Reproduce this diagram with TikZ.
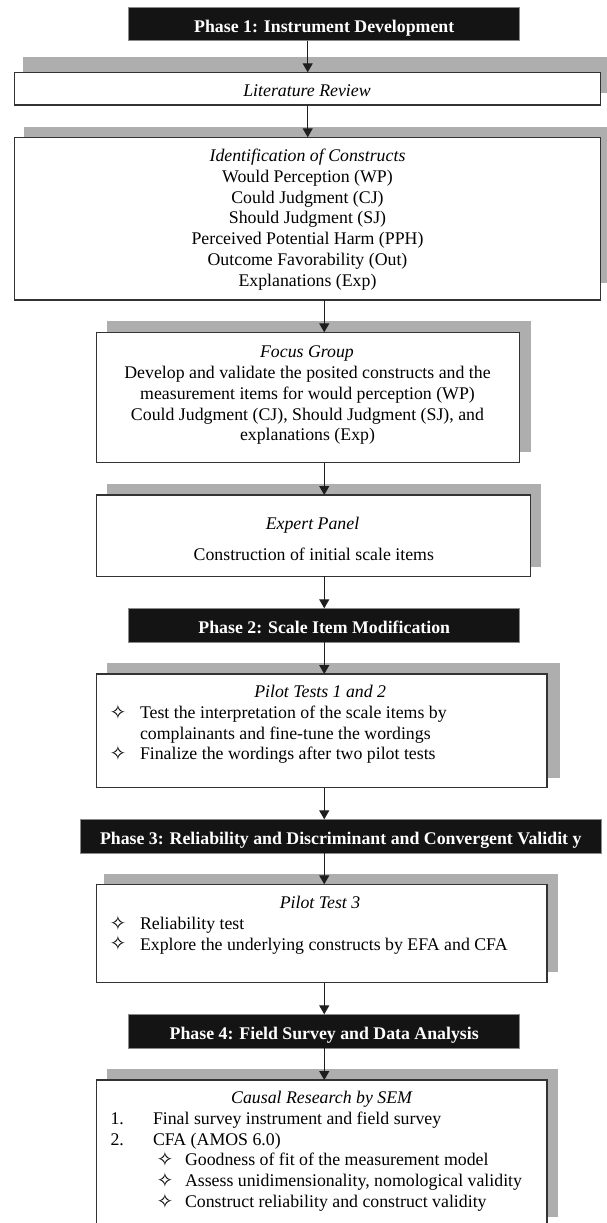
\documentclass[tikz,border=0pt]{standalone}
\usepackage{fontspec}
\setmainfont{Liberation Serif}
\newfontfamily\dingfont{DejaVu Sans}
\usetikzlibrary{arrows.meta}
\definecolor{shadowgray}{HTML}{AEAEAE}
\definecolor{boxline}{HTML}{333333}
\definecolor{hdrfill}{HTML}{141414}
\definecolor{hdrline}{HTML}{8A8A8A}
\definecolor{flowline}{HTML}{1E1E1E}
\begin{document}
\begin{tikzpicture}[x=1pt,y=-1pt,
  every node/.style={inner sep=0pt, outer sep=0pt},
  panel/.style={draw=boxline, fill=white, line width=1.3pt},
  phasebar/.style={draw=hdrline, fill=hdrfill, line width=0.8pt, text=white,
    font=\fontsize{17.8}{20.8}\selectfont\bfseries, text height=16.3pt, text depth=0pt,
    minimum height=34pt},
  dropshade/.style={fill=shadowgray},
  % multi-line text nodes are placed by the baseline of their last line
  bodytext/.style={font=\fontsize{17.8}{20.75}\selectfont, align=center, anchor=base},
  bodyleft/.style={font=\fontsize{17.8}{20.75}\selectfont, align=left, anchor=base west},
  boxtitle/.style={bodytext, font=\fontsize{17.8}{20.75}\selectfont\itshape},
  bulletmark/.style={font=\dingfont\fontsize{20}{20}\selectfont, anchor=center},
  flowarrow/.style={draw=flowline, line width=1.2pt, -{Triangle[length=9pt,width=10pt]}}
]
\useasboundingbox (0,0) rectangle (606,1223);

% drop shadows behind the panels
\fill[dropshade] (23,57.3) rectangle (612,93.3);
\fill[dropshade] (24,127.3) rectangle (612,283);
\fill[dropshade] (107,321) rectangle (530.7,451.7);
\fill[dropshade] (107,484) rectangle (541,566.7);
\fill[dropshade] (107,662.7) rectangle (560.4,777.7);
\fill[dropshade] (103.6,874.3) rectangle (557.7,972.3);
\fill[dropshade] (107,1069.3) rectangle (557.7,1216.7);

% phase bars
\node[phasebar, minimum width=391pt, minimum height=33.4pt] (p1) at (324.25,24) {Phase 1: Instrument Development};
\node[phasebar, minimum width=391pt] (p2) at (324.25,625.3) {Phase 2: Scale Item Modification};
\node[phasebar, minimum width=521.5pt] (p3) at (340.75,836.3) {Phase 3: Reliability and Discriminant and Convergent Validit y};
\node[phasebar, minimum width=391pt] (p4) at (324.25,1031.3) {Phase 4: Field Survey and Data Analysis};

% panels
\node[panel, minimum width=586pt, minimum height=32.7pt] (lit) at (307.7,88.65) {};
\node[panel, minimum width=586pt, minimum height=162.7pt] (ident) at (307.7,218.65) {};
\node[panel, minimum width=423.2pt, minimum height=130.4pt] (focus) at (308.2,397.5) {};
\node[panel, minimum width=433.7pt, minimum height=81.3pt] (expert) at (313.45,535.65) {};
\node[panel, minimum width=450.4pt, minimum height=113.7pt] (pilotA) at (321.8,730.85) {};
\node[panel, minimum width=450.4pt, minimum height=98.4pt] (pilotB) at (321.8,933.5) {};
\node[panel, minimum width=450.4pt, minimum height=148pt] (causal) at (321.8,1154) {};

% panel texts
\node[boxtitle] (litT) at (307,96.7) {Literature Review};

\node[boxtitle] (identT) at (307.5,161.7) {Identification of Constructs};
\node[bodytext] (identL) at (307.5,286.15) {Would Perception (WP)\\Could Judgment (CJ)\\Should Judgment (SJ)\\Perceived Potential Harm (PPH)\\Outcome Favorability (Out)\\Explanations (Exp)};

\node[boxtitle] (focusT) at (307,357.7) {Focus Group};
\node[bodytext] (focusL) at (307.5,440.75) {Develop and validate the posited constructs and the\\measurement items for would perception (WP)\\Could Judgment (CJ), Should Judgment (SJ), and\\explanations (Exp)};

\node[boxtitle] (expertT) at (312.5,529.3) {Expert Panel};
\node[bodytext] (expertL) at (313.8,560.3) {Construction of initial scale items};

\node[boxtitle] (pilotAT) at (320.2,697.5) {Pilot Tests 1 and 2};
\node[bulletmark] (pa1) at (118,711.8) {✧};
\node[bodyleft] (pa1t) at (140,739.05) {Test the interpretation of the scale items by\\complainants and fine-tune the wordings};
\node[bulletmark] (pa2) at (118,753.4) {✧};
\node[bodyleft] (pa2t) at (140,759.9) {Finalize the wordings after two pilot tests};

\node[boxtitle] (pilotBT) at (320,908.5) {Pilot Test 3};
\node[bulletmark] (pb1) at (118,922.8) {✧};
\node[bodyleft] (pb1t) at (140,929.3) {Reliability test};
\node[bulletmark] (pb2) at (118,943.6) {✧};
\node[bodyleft] (pb2t) at (140,950.1) {Explore the underlying constructs by EFA and CFA};

\node[boxtitle] (causalT) at (321.6,1103.5) {Causal Research by SEM};
\node[bodyleft] (cn1) at (110.5,1124.3) {1.};
\node[bodyleft] (cn1t) at (153,1124.3) {Final survey instrument and field survey};
\node[bodyleft] (cn2) at (110.5,1145.1) {2.};
\node[bodyleft] (cn2t) at (153,1145.1) {CFA (AMOS 6.0)};
\node[bulletmark] (cs1) at (165,1159.4) {✧};
\node[bodyleft] (cs1t) at (185,1165.9) {Goodness of fit of the measurement model};
\node[bulletmark] (cs2) at (165,1180.2) {✧};
\node[bodyleft] (cs2t) at (185,1186.7) {Assess unidimensionality, nomological validity};
\node[bulletmark] (cs3) at (165,1201) {✧};
\node[bodyleft] (cs3t) at (185,1207.5) {Construct reliability and construct validity};

% connectors
\draw[flowarrow] (p1.south -| lit.north) -- (lit.north);
\draw[flowarrow] (lit.south) -- (ident.north);
\draw[flowarrow] (ident.south -| p1.south) -- (focus.north -| p1.south);
\draw[flowarrow] (focus.south -| p1.south) -- (expert.north -| p1.south);
\draw[flowarrow] (expert.south -| p2.north) -- (p2.north);
\draw[flowarrow] (p2.south) -- (pilotA.north -| p2.south);
\draw[flowarrow] (pilotA.south -| p2.south) -- (p3.north -| p2.south);
\draw[flowarrow] (p3.south -| p2.south) -- (pilotB.north -| p2.south);
\draw[flowarrow] (pilotB.south -| p4.north) -- (p4.north);
\draw[flowarrow] (p4.south) -- (causal.north -| p4.south);
\end{tikzpicture}
\end{document}
